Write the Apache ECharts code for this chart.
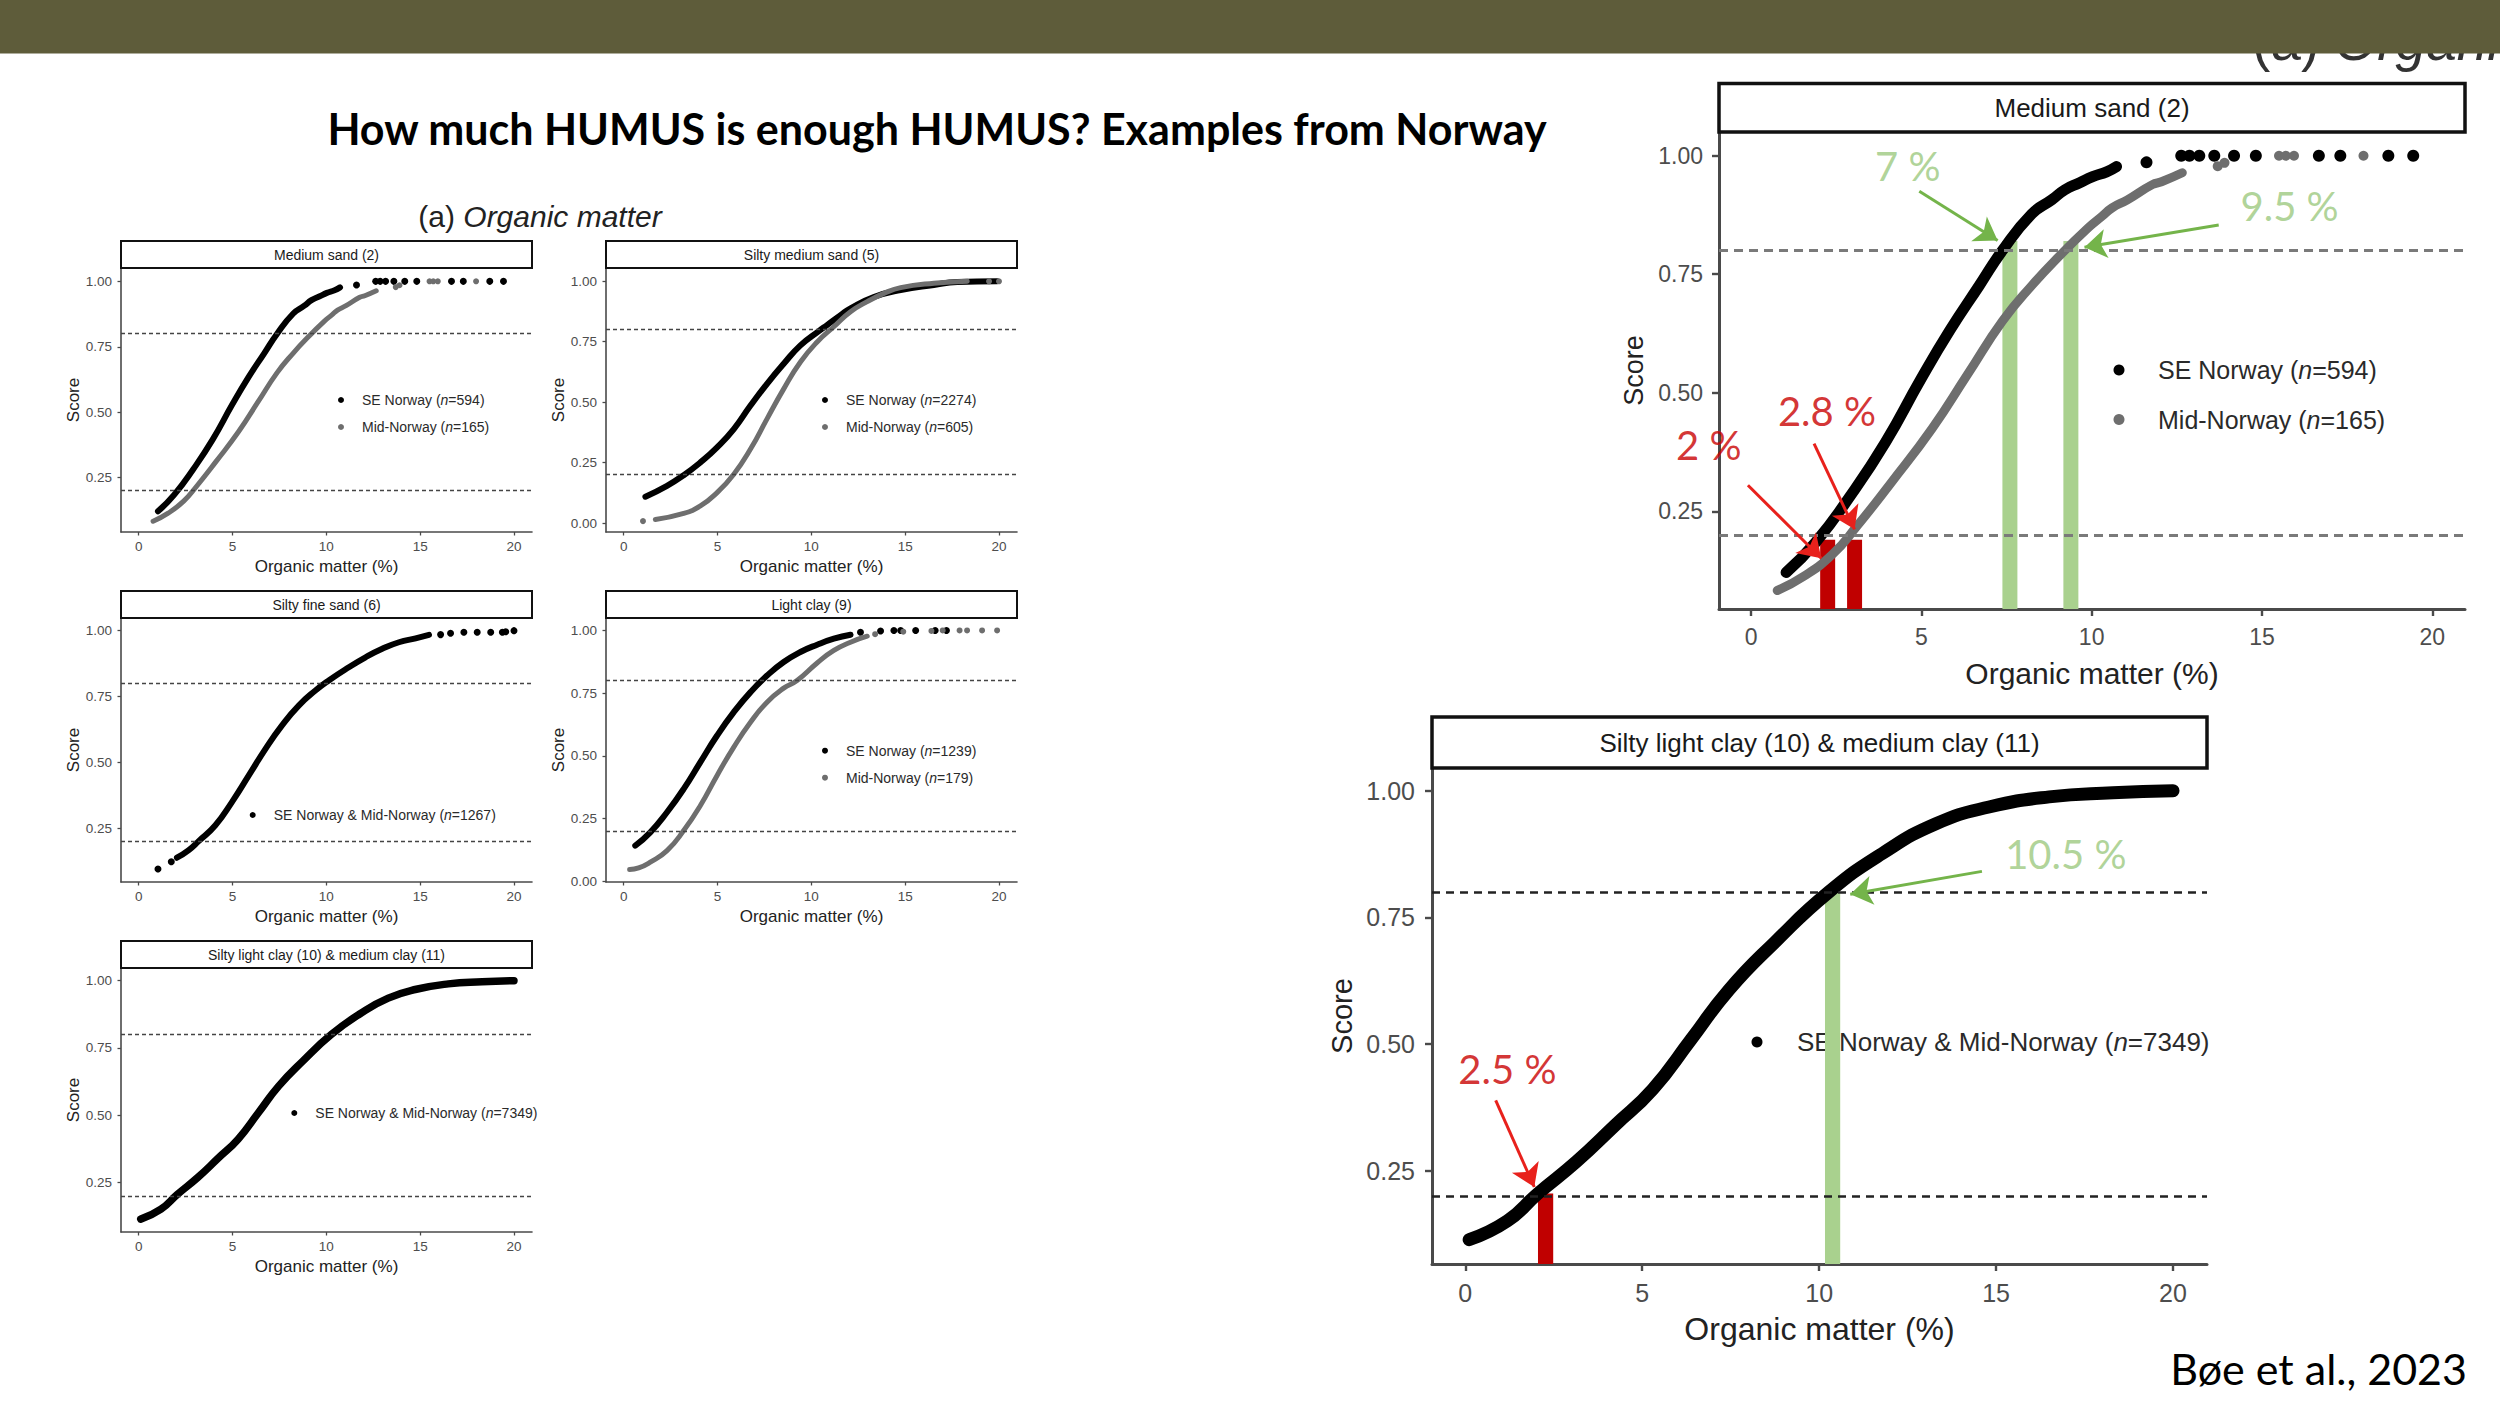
<!DOCTYPE html>
<html><head><meta charset="utf-8">
<script src="https://cdn.jsdelivr.net/npm/echarts@6/dist/echarts.min.js"></script>
<style>html,body{margin:0;padding:0;background:#fff}#c{width:2500px;height:1406px}</style>
</head><body><div id="c"></div>
<script>
// ---------- tick labels / reference lines ----------
const X_TICKS = [0, 5, 10, 15, 20];
const Y_TICKS = [0.25, 0.5, 0.75, 1];
const Y_TICKS_ZERO = [0, 0.25, 0.5, 0.75, 1];
const THRESHOLDS = [0.8, 0.2];

// ---------- Medium sand (2) ----------
const msNames = ['SE Norway (n=594)', 'Mid-Norway (n=165)'];
const msSE_curve = [[1.03,0.121],[1.89,0.184],[2.92,0.283],[3.95,0.396],[4.98,0.528],[5.84,0.632],[6.7,0.726],[7.38,0.8],[8.24,0.877],[8.83,0.907],[9.21,0.928],[9.65,0.943],[10.03,0.956],[10.44,0.966],[10.73,0.977]];
const msSE_dots = [[11.61,0.986],[12.63,1.0],[12.87,1.0],[13.16,1.0],[13.6,1.0],[14.18,1.0],[14.82,1.0],[16.67,1.0],[17.3,1.0],[18.71,1.0],[19.44,1.0]];
const msMid_curve = [[0.77,0.083],[1.55,0.113],[2.4,0.16],[3.09,0.217],[4.12,0.311],[5.32,0.425],[6.35,0.538],[7.38,0.651],[8.24,0.726],[9.1,0.792],[9.9,0.848],[10.3,0.872],[10.6,0.89],[11.05,0.907],[11.78,0.939],[12.05,0.945],[12.66,0.964]];
const msMid_dots = [[13.7,0.978],[13.9,0.985],[15.5,1.0],[15.7,1.0],[15.94,1.0],[17.98,1.0]];

// ---------- Silty medium sand (5) ----------
const smsNames = ['SE Norway (n=2274)', 'Mid-Norway (n=605)'];
const smsSE_curve = [[1.16,0.109],[2.31,0.154],[3.2,0.198],[4.09,0.251],[4.98,0.313],[5.87,0.389],[6.76,0.486],[7.64,0.576],[8.53,0.659],[9.42,0.735],[10.4,0.794],[10.84,0.819],[11.56,0.86],[12.09,0.888],[13.33,0.935],[14.76,0.964],[16.53,0.985],[17.78,0.997],[19.9,1.0]];
const smsMid_curve = [[1.69,0.015],[3.2,0.04],[4.09,0.071],[4.98,0.126],[5.87,0.202],[6.76,0.306],[7.64,0.431],[8.53,0.555],[9.42,0.666],[10.31,0.749],[11.2,0.812],[12.09,0.874],[12.98,0.916],[13.87,0.95],[14.76,0.974],[16.53,0.992],[18.31,1.0]];
const smsMid_dots = [[1.03,0.008],[19.47,1.0],[20.0,1.0]];

// ---------- Silty fine sand (6) ----------
const sfsNames = ['SE Norway & Mid-Norway (n=1267)'];
const sfs_curve = [[2.04,0.139],[2.67,0.168],[3.2,0.202],[4.09,0.262],[4.98,0.351],[5.87,0.451],[6.76,0.552],[7.64,0.641],[8.53,0.716],[9.42,0.773],[10.13,0.811],[11.2,0.861],[12.09,0.899],[12.98,0.931],[13.87,0.956],[14.76,0.971],[15.47,0.984]];
const sfs_dots = [[1.03,0.096],[1.74,0.124],[16.09,0.985],[16.62,0.99],[17.33,0.994],[18.04,0.994],[18.76,0.994],[19.38,0.994],[19.56,0.996],[20.0,1.0]];

// ---------- Light clay (9) ----------
const lcNames = ['SE Norway (n=1239)', 'Mid-Norway (n=179)'];
const lcSE_curve = [[0.62,0.142],[1.42,0.195],[2.31,0.275],[3.2,0.368],[4.09,0.475],[4.98,0.581],[5.87,0.674],[6.76,0.754],[7.64,0.82],[8.53,0.874],[9.42,0.914],[10.31,0.943],[11.2,0.967],[12.09,0.983]];
const lcSE_dots = [[12.62,0.993],[13.69,0.998],[14.4,1.0],[14.76,1.0],[15.56,1.0],[16.6,1.0],[17.2,1.0]];
const lcMid_curve = [[0.32,0.047],[0.8,0.053],[1.42,0.076],[2.31,0.122],[3.2,0.202],[4.09,0.302],[4.98,0.422],[5.87,0.535],[6.76,0.634],[7.64,0.714],[8.53,0.77],[9.24,0.8],[10.31,0.87],[11.2,0.92],[12.09,0.953],[12.98,0.977]];
const lcMid_dots = [[13.4,0.985],[14.9,0.995],[16.4,0.998],[17.0,1.0],[17.9,1.0],[18.3,1.0],[19.1,1.0],[19.9,1.0]];

// ---------- Silty light clay (10) & medium clay (11) ----------
const slcNames = ['SE Norway & Mid-Norway (n=7349)'];
const slc_curve = [[0.11,0.114],[1.19,0.151],[2.05,0.205],[3.14,0.268],[4.22,0.339],[5.3,0.411],[6.38,0.509],[7.46,0.608],[8.76,0.702],[10.27,0.8],[11.78,0.876],[13.3,0.935],[14.8,0.968],[16.5,0.988],[18.3,0.996],[20.0,1.0]];

// ---------- annotations (data coordinates) ----------
const msGreenBars = [7.6, 9.39];   const msGreenTop = 0.82;
const msRedBars = [2.25, 3.04];    const msRedTop = 0.19;
const msGreenNotes = [['7 %', 4.6, 0.979], ['9.5 %', 15.81, 0.894]];
const msRedNotes = [['2.8 %', 2.23, 0.462], ['2 %', -1.24, 0.39]];
const msGreenArrows = [[4.94,0.925,7.24,0.821],[13.73,0.854,9.79,0.807]];
const msRedArrows = [[1.85,0.393,3.04,0.212],[-0.09,0.305,2.06,0.151]];
const slcGreenBars = [10.38];      const slcGreenTop = 0.8;
const slcRedBars = [2.27];         const slcRedTop = 0.205;
const slcGreenNotes = [['10.5 %', 16.97, 0.876]];
const slcRedNotes = [['2.5 %', 1.19, 0.451]];
const slcGreenArrows = [[14.6,0.841,10.88,0.796]];
const slcRedArrows = [[0.86,0.389,1.95,0.218]];

// ---------- styles ----------
const AX = '"Liberation Sans", Arial, Helvetica, sans-serif';
const SL = 'Lato, "Noto Sans", sans-serif';
const BLACK = '#000000', GRAY = '#6e6e6e';
const GREEN_BAR = '#a9d18e', GREEN_TXT = '#9cc97e', GREEN_ARW = '#74b44a';
const RED_BAR = '#c00000', RED_TXT = '#c90000', RED_ARW = '#e8211c';
const X_MIN = -0.94, X_MAX = 20.96;

const small = {stripFont:14, tickFont:13.5, nameFont:17, yNameFont:17, legFont:14, legLH:16, legGap:11, dot:6,
  lwBlack:6, lwGray:5, axisW:1.6, tickLen:3.5, xMargin:7.5, yMargin:9, xNameGap:26, yNameGap:39,
  stripLW:2, dashW:1.4, dash:[4,3], dashColor:'#444', legPad:13};
const bigT = {stripFont:26, tickFont:23, nameFont:30, yNameFont:27, legFont:25, legLH:28, legGap:21.6, dot:11,
  lwBlack:11, lwGray:9, axisW:3, tickLen:7, xMargin:16.6, yMargin:16, xNameGap:49, yNameGap:72,
  stripLW:3.5, dashW:3, dash:[9,6], dashColor:'#7a7a7a', legPad:28.5};
const bigB = {stripFont:26, tickFont:25, nameFont:32, yNameFont:29, legFont:26, legLH:28, legGap:20, dot:11,
  lwBlack:13, lwGray:10, axisW:3, tickLen:7, xMargin:16, yMargin:17, xNameGap:49, yNameGap:76,
  stripLW:3.5, dashW:2.5, dash:[8,6], dashColor:'#222', legPad:29.5};

const panels = [
  {strip:'Medium sand (2)', g:[121,268,411,264], stripH:27, y:[0.042,1.051], yt:Y_TICKS, st:small, leg:[341,400],
   groups:[{name:msNames[0], curve:msSE_curve, dots:msSE_dots, c:BLACK},{name:msNames[1], curve:msMid_curve, dots:msMid_dots, c:GRAY, gray:true}]},
  {strip:'Silty medium sand (5)', g:[606,268,411,264], stripH:27, y:[-0.037,1.055], yt:Y_TICKS_ZERO, st:small, leg:[825,400],
   groups:[{name:smsNames[0], curve:smsSE_curve, c:BLACK},{name:smsNames[1], curve:smsMid_curve, dots:smsMid_dots, c:GRAY, gray:true}]},
  {strip:'Silty fine sand (6)', g:[121,618,411,264], stripH:27, y:[0.047,1.048], yt:Y_TICKS, st:small, leg:[252.7,815],
   groups:[{name:sfsNames[0], curve:sfs_curve, dots:sfs_dots, c:BLACK}]},
  {strip:'Light clay (9)', g:[606,618,411,264], stripH:27, y:[-0.003,1.0495], yt:Y_TICKS_ZERO, st:small, leg:[825,750.7],
   groups:[{name:lcNames[0], curve:lcSE_curve, dots:lcSE_dots, c:BLACK},{name:lcNames[1], curve:lcMid_curve, dots:lcMid_dots, c:GRAY, gray:true}]},
  {strip:'Silty light clay (10) & medium clay (11)', g:[121,968,411,264], stripH:27, y:[0.066,1.047], yt:Y_TICKS, st:Object.assign({}, small, {lwBlack:7.5}), leg:[294.3,1113],
   groups:[{name:slcNames[0], curve:slc_curve, c:BLACK}]},
  {strip:'Medium sand (2)', g:[1719,132,746,477], stripH:48.5, y:[0.044,1.05], yt:Y_TICKS, st:bigT, leg:[2119,370],
   groups:[{name:msNames[0], curve:msSE_curve, dots:msSE_dots, c:BLACK},{name:msNames[1], curve:msMid_curve, dots:msMid_dots, c:GRAY, gray:true}]},
  {strip:'Silty light clay (10) & medium clay (11)', g:[1432,768,775,496], stripH:51, y:[0.066,1.045], yt:Y_TICKS, st:bigB, leg:[1757,1042],
   groups:[{name:slcNames[0], curve:slc_curve, c:BLACK}]}
];

const option = {animation:false, grid:[], xAxis:[], yAxis:[], series:[], legend:[], graphic:[]};

panels.forEach((p, i) => {
  const s = p.st;
  option.grid.push({left:p.g[0], top:p.g[1], width:p.g[2], height:p.g[3], containLabel:false});
  option.xAxis.push({
    gridIndex:i, type:'value', min:X_MIN, max:X_MAX,
    name:'Organic matter (%)', nameLocation:'middle', nameGap:s.xNameGap,
    nameTextStyle:{fontSize:s.nameFont, color:'#222', fontFamily:AX},
    axisLine:{show:true, onZero:false, lineStyle:{color:'#4a4a4a', width:s.axisW}},
    axisTick:{show:true, customValues:X_TICKS, length:s.tickLen, lineStyle:{color:'#4a4a4a', width:s.axisW*0.8}},
    axisLabel:{customValues:X_TICKS, fontSize:s.tickFont, color:'#4d4d4d', margin:s.xMargin, fontFamily:AX},
    splitLine:{show:false}
  });
  option.yAxis.push({
    gridIndex:i, type:'value', min:p.y[0], max:p.y[1],
    name:'Score', nameLocation:'middle', nameGap:s.yNameGap,
    nameTextStyle:{fontSize:s.yNameFont, color:'#222', fontFamily:AX},
    axisLine:{show:true, onZero:false, lineStyle:{color:'#4a4a4a', width:s.axisW}},
    axisTick:{show:true, customValues:p.yt, length:s.tickLen, lineStyle:{color:'#4a4a4a', width:s.axisW*0.8}},
    axisLabel:{customValues:p.yt, fontSize:s.tickFont, color:'#4d4d4d', margin:s.yMargin, fontFamily:AX,
      formatter:v => Number(v).toFixed(2)},
    splitLine:{show:false}
  });
  p.groups.forEach((gr, k) => {
    const lw = gr.gray ? s.lwGray : s.lwBlack;
    const line = {
      type:'line', name:gr.name, xAxisIndex:i, yAxisIndex:i, data:gr.curve,
      smooth:0.5, showSymbol:false, symbol:'circle',
      color:gr.c, lineStyle:{color:gr.c, width:lw, cap:'round', join:'round'},
      itemStyle:{color:gr.c}, z:3 + k, silent:true
    };
    if (k === 0) {
      line.markLine = {silent:true, symbol:'none', label:{show:false}, animation:false,
        lineStyle:{type:s.dash, color:s.dashColor, width:s.dashW},
        emphasis:{disabled:true},
        data:THRESHOLDS.map(v => ({yAxis:v}))};
    }
    option.series.push(line);
    if (gr.dots) {
      option.series.push({type:'scatter', name:gr.name, xAxisIndex:i, yAxisIndex:i, data:gr.dots,
        symbolSize:lw + 1, itemStyle:{color:gr.c, opacity:1}, z:3 + k, silent:true});
    }
  });
  option.legend.push({
    data:p.groups.map(g => g.name), orient:'vertical', padding:0, z:1,
    left:p.leg[0] - s.dot / 2, top:p.leg[1] - s.legLH / 2,
    icon:'circle', itemWidth:s.dot, itemHeight:s.dot, itemGap:s.legGap, selectedMode:false,
    formatter:n => n.replace('(n=', '({i|n}='),
    textStyle:{fontFamily:AX, fontSize:s.legFont, color:'#2a2a2a', lineHeight:s.legLH, padding:[0,0,0,s.legPad],
      rich:{i:{fontStyle:'italic', fontFamily:AX, fontSize:s.legFont, color:'#2a2a2a', lineHeight:s.legLH}}}
  });
  option.graphic.push({type:'rect', z:5, silent:true,
    shape:{x:p.g[0], y:p.g[1] - p.stripH, width:p.g[2], height:p.stripH},
    style:{fill:'#fff', stroke:'#111', lineWidth:s.stripLW}});
  option.graphic.push({type:'text', z:6, silent:true, x:p.g[0] + p.g[2] / 2, y:p.g[1] - p.stripH / 2,
    style:{text:p.strip, fontSize:s.stripFont, fontFamily:AX, fill:'#1a1a1a', align:'center', verticalAlign:'middle'}});
});

function annotate(gi, yMin, half, gBars, gTop, rBars, rTop, gNotes, rNotes, gArrows, rArrows) {
  option.series.push({
    type:'scatter', xAxisIndex:gi, yAxisIndex:gi, clip:false, silent:true, z:20, symbolSize:0,
    data:[...gNotes.map(n => ({name:n[0], value:[n[1], n[2]], label:{color:GREEN_TXT}})),
          ...rNotes.map(n => ({name:n[0], value:[n[1], n[2]], label:{color:RED_TXT}}))],
    label:{show:true, position:'inside', formatter:'{b}', fontSize:40, fontFamily:SL},
    markArea:{silent:true, itemStyle:{opacity:1},
      data:[...gBars.map(x => [{coord:[x - half, yMin], itemStyle:{color:GREEN_BAR, opacity:1}}, {coord:[x + half, gTop]}]),
            ...rBars.map(x => [{coord:[x - half, yMin], itemStyle:{color:RED_BAR, opacity:1}}, {coord:[x + half, rTop]}])]},
    markLine:{silent:true, symbol:['none','arrow'], symbolSize:22, label:{show:false},
      lineStyle:{width:3, type:'solid'},
      data:[...gArrows.map(a => [{coord:[a[0], a[1]], lineStyle:{color:GREEN_ARW}, itemStyle:{color:GREEN_ARW}}, {coord:[a[2], a[3]], itemStyle:{color:GREEN_ARW}}]),
            ...rArrows.map(a => [{coord:[a[0], a[1]], lineStyle:{color:RED_ARW}, itemStyle:{color:RED_ARW}}, {coord:[a[2], a[3]], itemStyle:{color:RED_ARW}}])]}
  });
}
annotate(5, panels[5].y[0], 0.22, msGreenBars, msGreenTop, msRedBars, msRedTop, msGreenNotes, msRedNotes, msGreenArrows, msRedArrows);
annotate(6, panels[6].y[0], 0.215, slcGreenBars, slcGreenTop, slcRedBars, slcRedTop, slcGreenNotes, slcRedNotes, slcGreenArrows, slcRedArrows);

// ---------- slide text ----------
option.graphic.push(
  {type:'text', z:90, silent:true, x:2252, y:68,
   style:{text:'(a) {i|Organic matter}', fontSize:55, fontFamily:AX, fill:'#333', align:'left', verticalAlign:'bottom',
     rich:{i:{fontStyle:'italic', fontSize:55, fontFamily:AX, fill:'#333'}}}},
  {type:'rect', z:100, silent:true, shape:{x:0, y:0, width:2500, height:53.5}, style:{fill:'#5e5c3a'}},
  {type:'text', z:10, silent:true, x:937, y:128,
   style:{text:'How much HUMUS is enough HUMUS? Examples from Norway', fontSize:43, fontWeight:'bold', fontFamily:SL,
     fill:'#000', align:'center', verticalAlign:'middle'}},
  {type:'text', z:10, silent:true, x:540, y:216,
   style:{text:'(a) {i|Organic matter}', fontSize:30, fontFamily:AX, fill:'#222', align:'center', verticalAlign:'middle',
     rich:{i:{fontStyle:'italic', fontSize:30, fontFamily:AX, fill:'#222'}}}},
  {type:'text', z:10, silent:true, x:2467, y:1368,
   style:{text:'Bøe et al., 2023', fontSize:43, fontFamily:SL, fill:'#000', align:'right', verticalAlign:'middle'}}
);

const chart = echarts.init(document.getElementById('c'), null, {renderer:'svg', width:2500, height:1406});
chart.setOption(option);
</script>
</body></html>
